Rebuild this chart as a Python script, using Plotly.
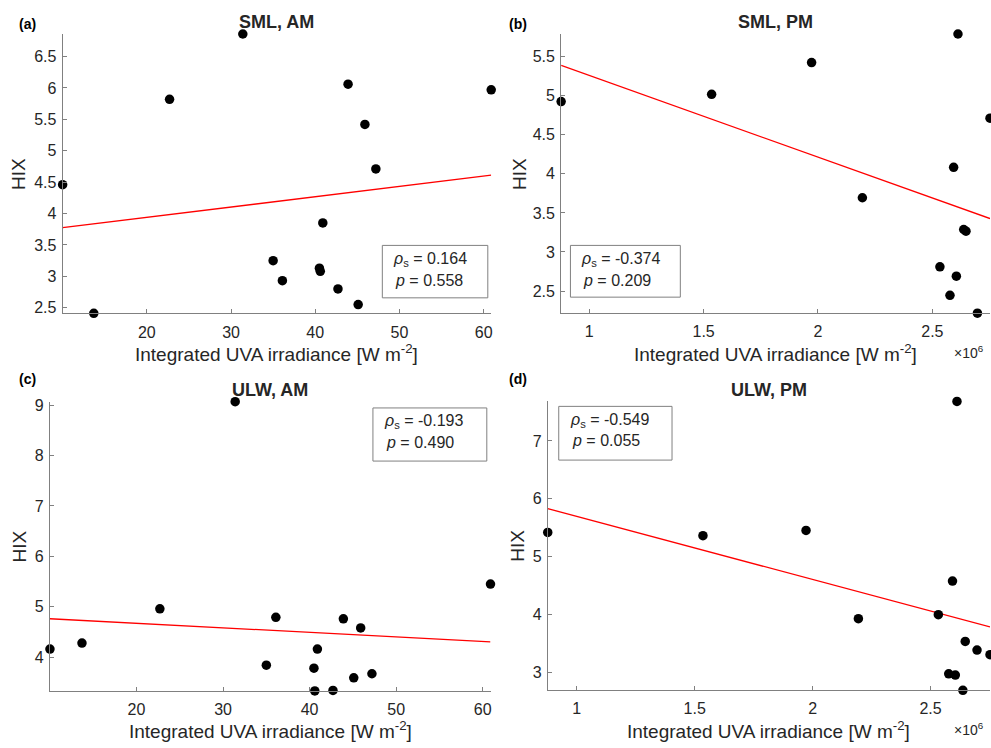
import numpy as np
import plotly.graph_objects as go

W, H = 991, 748

# ---- data ----
uva_am = [10.0, 13.7, 22.7, 31.4, 35.0, 36.1, 40.5, 40.6, 40.9, 42.7, 43.9, 45.1, 45.9, 47.2, 60.9]
hix_sml_am = [4.46, 2.41, 5.82, 6.86, 3.25, 2.93, 3.13, 3.08, 3.85, 2.80, 6.06, 2.55, 5.42, 4.71, 5.97]
hix_ulw_am = [4.16, 4.28, 4.96, 9.07, 3.84, 4.79, 3.78, 3.33, 4.16, 3.34, 4.76, 3.59, 4.58, 3.67, 5.45]

uva_pm = [0.877, 1.535, 1.972, 2.194, 2.533, 2.577, 2.593, 2.605, 2.612, 2.637, 2.647, 2.697, 2.752]  # x10^6
hix_sml_pm = [4.925, 5.018, 5.424, 3.694, 2.81, 2.446, 4.083, 2.69, 5.79, 3.288, 3.267, 2.217, 4.713]
hix_ulw_pm = [5.418, 5.361, 5.452, 3.926, 3.994, 2.971, 4.576, 2.949, 7.685, 2.686, 3.531, 3.382, 3.302]

panel_titles = ["SML, AM", "SML, PM", "ULW, AM", "ULW, PM"]
panel_letters = ["(a)", "(b)", "(c)", "(d)"]
rho_vals = ["0.164", "-0.374", "-0.193", "-0.549"]
p_vals = ["0.558", "0.209", "0.490", "0.055"]

x_ticks_am = [20, 30, 40, 50, 60]
x_ticks_pm = [1, 1.5, 2, 2.5]
y_ticks = [
    [2.5, 3, 3.5, 4, 4.5, 5, 5.5, 6, 6.5],
    [2.5, 3, 3.5, 4, 4.5, 5, 5.5],
    [4, 5, 6, 7, 8, 9],
    [3, 4, 5, 6, 7],
]

panels = [
    (uva_am, hix_sml_am, x_ticks_am),
    (uva_pm, hix_sml_pm, x_ticks_pm),
    (uva_am, hix_ulw_am, x_ticks_am),
    (uva_pm, hix_ulw_pm, x_ticks_pm),
]

# ---- layout geometry (pixels) ----
boxes = [
    (62.7, 491.7, 29.3, 311.7),
    (561.7, 991.0, 29.3, 311.5),
    (50.0, 491.0, 401.0, 693.3),
    (548.3, 991.0, 400.7, 692.7),
]
stat_boxes = [
    (382.7, 488.3, 243.0, 296.0),
    (571.0, 681.0, 243.0, 295.3),
    (373.3, 487.3, 407.3, 461.0),
    (559.3, 672.7, 405.7, 460.0),
]

FONT = "Arial, 'Liberation Sans', Helvetica, sans-serif"
TXT = "#262626"
AXC = "#808080"


def px(x, y):
    return x / W, 1 - y / H


fig = go.Figure()
annotations = []
shapes = []

for i, ((xs, ys, xt), (l, r, t, b)) in enumerate(zip(panels, boxes)):
    n = i + 1
    xa = "x" if n == 1 else f"x{n}"
    ya = "y" if n == 1 else f"y{n}"
    xs_a = np.array(xs, dtype=float)
    ys_a = np.array(ys, dtype=float)
    xr = [xs_a.min(), xs_a.max()]
    yr = [ys_a.min(), ys_a.max()]

    slope, icpt = np.polyfit(xs_a, ys_a, 1)
    fig.add_trace(go.Scatter(
        x=xr, y=[slope * xr[0] + icpt, slope * xr[1] + icpt],
        mode="lines", line=dict(color="#FF0000", width=1.3),
        xaxis=xa, yaxis=ya, showlegend=False, cliponaxis=False,
    ))
    fig.add_trace(go.Scatter(
        x=xs, y=ys, mode="markers",
        marker=dict(color="black", size=9.5),
        xaxis=xa, yaxis=ya, showlegend=False, cliponaxis=False,
    ))

    axis_common = dict(
        showline=True, linecolor=AXC, linewidth=1, mirror=False,
        showgrid=False, zeroline=False,
        ticks="inside", ticklen=4, tickcolor=AXC, tickwidth=1,
        tickfont=dict(family=FONT, size=16, color=TXT),
    )
    fig.update_layout(**{
        ("xaxis" if n == 1 else f"xaxis{n}"): dict(
            axis_common, domain=[l / W, r / W], range=xr,
            tickvals=xt, anchor=ya, ticklabelstandoff=4),
        ("yaxis" if n == 1 else f"yaxis{n}"): dict(
            axis_common, domain=[1 - b / H, 1 - t / H], range=yr,
            tickvals=y_ticks[i], anchor=xa, ticklabelstandoff=2),
    })

    cx = (l + r) / 2
    cy = (t + b) / 2
    # panel title
    ax_, ay_ = px(cx, t - 12)
    annotations.append(dict(x=ax_, y=ay_, xref="paper", yref="paper",
                            text=f"<b>{panel_titles[i]}</b>", showarrow=False,
                            font=dict(family=FONT, size=18, color=TXT),
                            xanchor="center", yanchor="middle"))
    # panel letter
    lx = 17 if i % 2 == 0 else 507.7
    ly = 19 if i < 2 else 378
    ax_, ay_ = px(lx, ly)
    annotations.append(dict(x=ax_, y=ay_, xref="paper", yref="paper",
                            text=f"<b>{panel_letters[i]}</b>", showarrow=False,
                            font=dict(family=FONT, size=14, color="black"),
                            xanchor="left", yanchor="middle"))
    # x title
    ax_, ay_ = px(cx, b + 40)
    annotations.append(dict(x=ax_, y=ay_, xref="paper", yref="paper",
                            text="Integrated UVA irradiance [W m<sup>-2</sup>]",
                            showarrow=False,
                            font=dict(family=FONT, size=19, color=TXT),
                            xanchor="center", yanchor="middle"))
    # y title
    hx = [18.3, 520.0, 19.3, 518.3][i]
    ax_, ay_ = px(hx, cy)
    annotations.append(dict(x=ax_, y=ay_, xref="paper", yref="paper",
                            text="HIX", textangle=-90, showarrow=False,
                            font=dict(family=FONT, size=19, color=TXT),
                            xanchor="center", yanchor="middle"))
    # x10^6 exponent
    if i % 2 == 1:
        ax_, ay_ = px(970, b + 39)
        annotations.append(dict(x=ax_, y=ay_, xref="paper", yref="paper",
                                text="×10<sup>6</sup>", showarrow=False,
                                font=dict(family=FONT, size=14, color=TXT),
                                xanchor="center", yanchor="middle"))
    # stats box
    sl, sr, st, sb = stat_boxes[i]
    x0, y1 = px(sl, st)
    x1, y0 = px(sr, sb)
    shapes.append(dict(type="rect", xref="paper", yref="paper",
                       x0=x0, x1=x1, y0=y0, y1=y1,
                       line=dict(color=AXC, width=1), fillcolor="white",
                       layer="below"))
    ax_, ay_ = px(sl + 9, st + 14)
    annotations.append(dict(x=ax_, y=ay_, xref="paper", yref="paper",
                            text=f"<i>ρ</i><sub>s</sub> = {rho_vals[i]}",
                            showarrow=False,
                            font=dict(family=FONT, size=16, color=TXT),
                            xanchor="left", yanchor="middle"))
    ax_, ay_ = px(sl + 11, st + 35)
    annotations.append(dict(x=ax_, y=ay_, xref="paper", yref="paper",
                            text=f"<i>p</i> = {p_vals[i]}",
                            showarrow=False,
                            font=dict(family=FONT, size=16, color=TXT),
                            xanchor="left", yanchor="middle"))

fig.update_layout(
    width=W, height=H,
    margin=dict(l=0, r=0, t=0, b=0),
    paper_bgcolor="white", plot_bgcolor="rgba(0,0,0,0)",
    annotations=annotations, shapes=shapes,
    showlegend=False,
)

fig.write_html(
    "out.html",
    config={"displayModeBar": False},
    post_script="document.body.style.margin='0';document.body.style.overflow='hidden';",
)
